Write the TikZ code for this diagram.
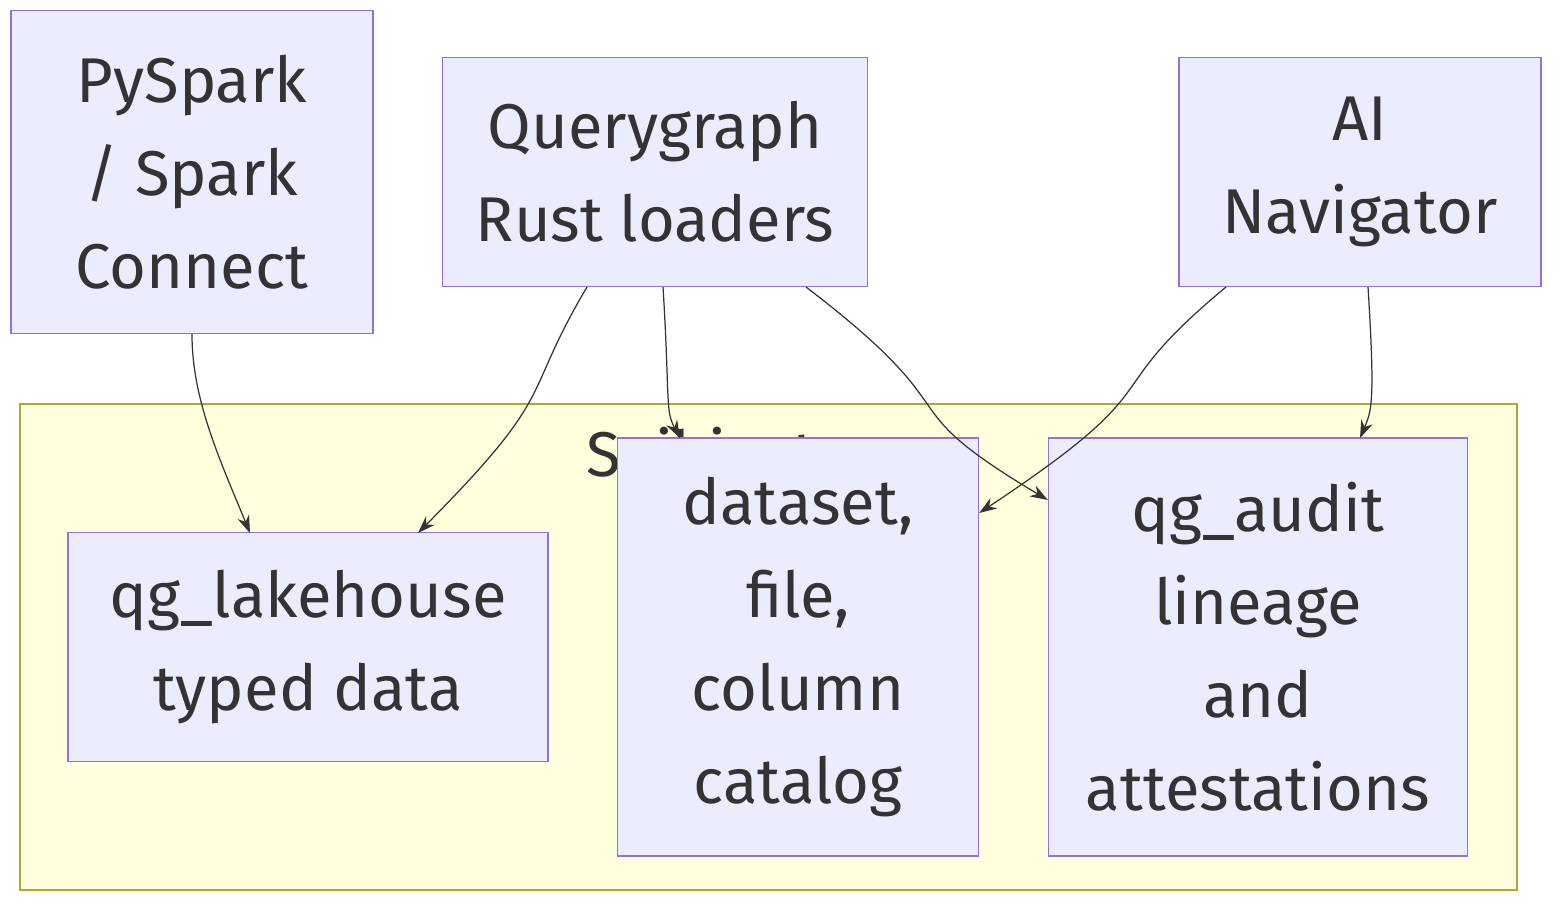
\documentclass[tikz,border=0pt]{standalone}
\usepackage{fontspec}
\setmainfont{Fira Sans}
\usetikzlibrary{arrows.meta}
\definecolor{nodefill}{HTML}{ECECFF}
\definecolor{nodeline}{HTML}{9370DB}
\definecolor{clusterfill}{HTML}{FFFFDE}
\definecolor{clusterline}{HTML}{AAAA33}
\definecolor{txt}{HTML}{333333}
\tikzset{
	box/.style={rectangle,draw=nodeline,fill=nodefill,line width=0.8pt,text=txt,align=center,
		font=\fontsize{36}{53}\selectfont,inner sep=0pt},
	link/.style={draw=txt,line width=0.7pt,-{Stealth[length=10pt,width=7pt]}}
}
\begin{document}
\begin{tikzpicture}[x=0.02cm,y=-0.02cm]
	\useasboundingbox (0,0) rectangle (1568,912);
	% cluster
	\draw[fill=clusterfill,draw=clusterline,line width=0.8pt] (20,404) rectangle (1517,890);
	\path (768,452) node(sail) [text=txt,font=\fontsize{36}{53}\selectfont] {Sail instance};

	\path (192,172) node(pyspark) [box,minimum width=362*0.02cm,minimum height=323*0.02cm] {PySpark\\/ Spark\\Connect};
	\path (655,172) node(loaders) [box,minimum width=425*0.02cm,minimum height=229*0.02cm] {Querygraph\\Rust loaders};
	\path (1360,172) node(navigator) [box,minimum width=362*0.02cm,minimum height=229*0.02cm] {AI\\Navigator};
	\path (308,647) node(lakehouse) [box,minimum width=480*0.02cm,minimum height=229*0.02cm] {qg\_lakehouse\\typed data};
	\path (798,647) node(catalog) [box,minimum width=361*0.02cm,minimum height=418*0.02cm] {dataset,\\file,\\column\\catalog};
	\path (1258,647) node(audit) [box,minimum width=419*0.02cm,minimum height=418*0.02cm] {qg\_audit\\lineage\\and\\attestations};

	\draw[link] (pyspark.south) .. controls (192,400) and (220,460) .. (250,533);
	\draw[link] (587,287) .. controls (520,400) and (560,390) .. (418,533);
	\draw[link] (663,287) .. controls (670,400) and (665,410) .. (680,438);
	\draw[link] (806,287) .. controls (980,420) and (880,400) .. (audit.west |- 0,500);
	\draw[link] (1226,287) .. controls (1090,400) and (1180,380) .. (catalog.east |- 0,513);
	\draw[link] (1368,287) .. controls (1375,400) and (1372,410) .. (1360,438);
\end{tikzpicture}
\end{document}
